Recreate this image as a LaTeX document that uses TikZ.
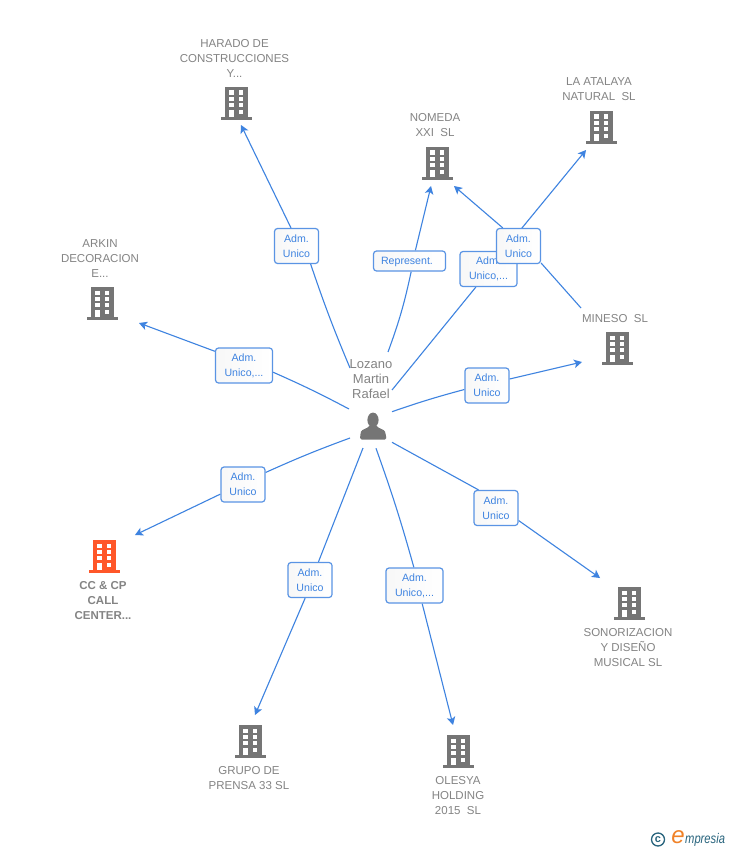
\documentclass[tikz,border=0pt]{standalone}
\usepackage{fontspec}
\setmainfont{Liberation Sans}
\usetikzlibrary{arrows.meta,backgrounds}
\definecolor{linkblue}{RGB}{62,131,224}
\definecolor{boxblue}{RGB}{90,148,228}
\definecolor{icongray}{RGB}{117,117,117}
\definecolor{namegray}{RGB}{132,132,132}
\definecolor{buildingred}{RGB}{255,87,41}
\definecolor{logoteal}{RGB}{40,100,125}
\definecolor{logoorange}{RGB}{240,130,40}

\begin{document}
\begin{tikzpicture}[
    x=1pt, y=-1pt,
    company/.style={text=namegray, align=center, inner sep=0pt, font=\fontsize{11.5}{15}\selectfont},
    role/.style={draw=boxblue, line width=1.2pt, rounded corners=3pt, left color=black!3, right color=white, text=linkblue, align=center, inner sep=0pt, minimum height=35pt, font=\fontsize{10.6}{15}\selectfont, execute at begin node={\rule{0pt}{10pt}}},
    link/.style={linkblue, line width=1.1pt},
    arrow/.style={-{Stealth[length=8pt,width=8.5pt,inset=2pt]}, linkblue, line width=1.1pt},
    building/.pic={
        \fill[pic actions] (-11.5,-16) rectangle (11.5,14);
        \fill[pic actions] (-15.5,14) rectangle (15.5,17);
        \foreach \wy in {-12.5,-6.2,0.1} {
            \fill[white] (-7.2,\wy) rectangle (-2.5,\wy+4.3);
            \fill[white] (2.5,\wy) rectangle (7.4,\wy+4.3);
        }
        \fill[white] (-7.2,6.7) rectangle (-2.5,14);
        \fill[white] (2.5,7) rectangle (7.4,11.3);
    }
]

\useasboundingbox (0,0) rectangle (728,850);

% Person
\node[text=namegray, align=center, inner sep=0pt, font=\fontsize{13}{15}\selectfont] (lozano) at (371,379.5) {Lozano\\Martin\\Rafael};
\fill[icongray] (373,420) ellipse (5.6 and 7.4);
\fill[icongray, rounded corners=1.5pt] (360,439.5) -- (360.5,433) .. controls (362,429) and (367,429) .. (370,425) -- (376,425) .. controls (379,429) and (384,429) .. (385.5,433) -- (386.5,439.5) -- cycle;

% Buildings
\pic[icongray] at (236,103) {building};
\pic[icongray] at (601,127) {building};
\pic[icongray] at (437,163) {building};
\pic[icongray] at (102,303) {building};
\pic[icongray] at (617,348) {building};
\pic[icongray] at (629,603) {building};
\pic[icongray] at (458,751) {building};
\pic[icongray] at (250,741) {building};
\pic[buildingred] at (104,556) {building};

% Company names
\node[company] (harado) at (234.5,58.5) {HARADO DE\\CONSTRUCCIONES\\Y...};
\node[company] (atalaya) at (599,89.5) {LA ATALAYA\\NATURAL\ \ SL};
\node[company] (nomeda) at (435,125.5) {NOMEDA\\XXI\ \ SL};
\node[company] (arkin) at (100,258.5) {ARKIN\\DECORACION\\E...};
\node[company] (mineso) at (615,318.5) {MINESO\ \ SL};
\node[company] (sonorizacion) at (628,647.5) {SONORIZACION\\Y DISEÑO\\MUSICAL SL};
\node[company] (olesya) at (458,795.5) {OLESYA\\HOLDING\\2015\ \ SL};
\node[company] (grupo) at (249,778.5) {GRUPO DE\\PRENSA 33 SL};
\node[company, font=\fontsize{11.5}{15}\selectfont\bfseries] (ccp) at (103,600.5) {CC \& CP\\CALL\\CENTER...};

% Free ends
\coordinate (sharado) at (350,368);
\coordinate (tharado) at (241,125);
\coordinate (snomeda) at (388,352);
\coordinate (tnomeda) at (431,186);
\coordinate (satalaya) at (392,390);
\coordinate (tatalaya) at (586,150);
\coordinate (smineso) at (581,308);
\coordinate (tmineso) at (454,186);
\coordinate (sfirm) at (392,411.7);
\coordinate (tfirm) at (582,362);
\coordinate (ssono) at (392,442.3);
\coordinate (tsono) at (600,578);
\coordinate (solesya) at (376,448.3);
\coordinate (tolesya) at (453,725);
\coordinate (sgrupo) at (363,448);
\coordinate (tgrupo) at (255,715);
\coordinate (sccp) at (350,438);
\coordinate (tccp) at (135,535);
\coordinate (sarkin) at (349,409);
\coordinate (tarkin) at (139,323);

% Role boxes
\node[role, minimum width=57pt] (radarkin) at (244,365.5) {Adm.\\Unico,...};
\node[role, minimum width=44pt] (radharado) at (296.5,246) {Adm.\\Unico};
\node[role, minimum width=72pt, minimum height=20pt] (rnomeda) at (409.5,261) {Represent.\hspace*{5pt}};
\node[role, minimum width=57pt] (ratalaya) at (488.5,269) {Adm.\\Unico,...};
\node[role, minimum width=44pt] (rmineso) at (518.5,246) {Adm.\\Unico};
\node[role, minimum width=44pt] (rfirm) at (487,385.5) {Adm.\\Unico};
\node[role, minimum width=44pt] (rsono) at (496,508) {Adm.\\Unico};
\node[role, minimum width=57pt] (rolesya) at (414.5,585.5) {Adm.\\Unico,...};
\node[role, minimum width=44pt] (rgrupo) at (310,580) {Adm.\\Unico};
\node[role, minimum width=44pt] (rccp) at (243,484.5) {Adm.\\Unico};

% Connectors
\begin{scope}[on background layer]
\fill[white] (0,0) rectangle (728,850);
\draw[link] (sharado) to[bend left=2] (radharado.-52);
\draw[arrow] (radharado.107) -- (tharado);
\draw[link] (snomeda) to[bend right=4] (rnomeda.-81);
\draw[arrow] (rnomeda.61) -- (tnomeda);
\draw[link] (satalaya) -- (ratalaya.-125);
\draw[arrow] (ratalaya.51) -- (tatalaya);
\draw[link] (smineso) -- (rmineso.-37);
\draw[arrow] (rmineso.131) -- (tmineso);
\draw[link] (sfirm) to[bend left=2] (rfirm.-170);
\draw[arrow] (rfirm.16) -- (tfirm);
\draw[link] (ssono) -- (rsono.134);
\draw[arrow] (rsono.-29) -- (tsono);
\draw[link] (solesya) to[bend left=2] (rolesya.92);
\draw[arrow] (rolesya.-67) -- (tolesya);
\draw[link] (sgrupo) -- (rgrupo.65);
\draw[arrow] (rgrupo.-105) -- (tgrupo);
\draw[link] (sccp) to[bend right=2] (rccp.28);
\draw[arrow] (rccp.-157) -- (tccp);
\draw[link] (sarkin) to[bend right=2] (radarkin.-13);
\draw[arrow] (radarkin.154) -- (tarkin);
\end{scope}

% Logo
\node[circle, draw=logoteal, line width=1.3pt, minimum size=13pt, inner sep=0pt, text=logoteal, font=\fontsize{11}{11}\selectfont\bfseries] (copyright) at (658,839.5) {c};
\node[text=logoorange, inner sep=0pt, font=\fontsize{24}{24}\selectfont\itshape] (logoe) at (678,837) {e};
\node[text=logoteal, inner sep=0pt, anchor=west, xscale=.8, transform shape, font=\fontsize{14}{14}\selectfont\itshape] (logoname) at (685,840) {mpresia};

\end{tikzpicture}
\end{document}
